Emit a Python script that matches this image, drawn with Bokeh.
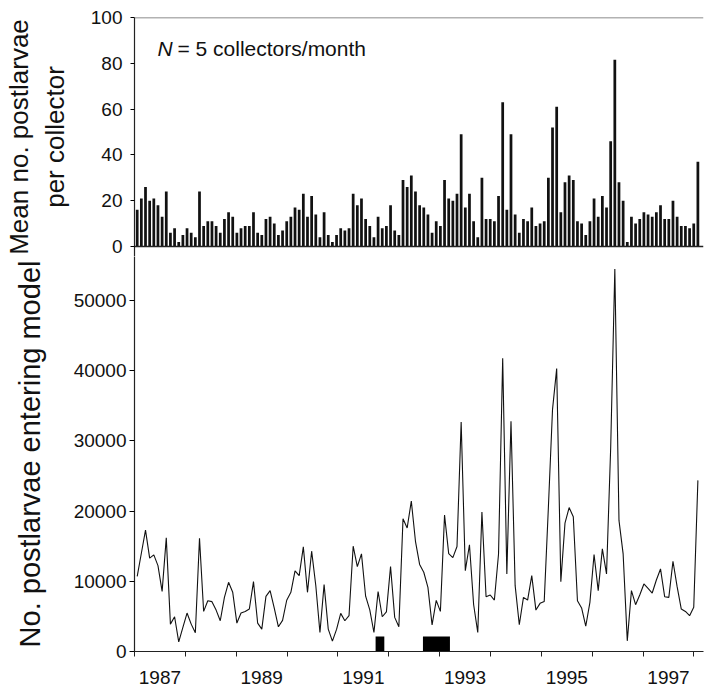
from bokeh.plotting import figure
from bokeh.layouts import column
from bokeh.models import FixedTicker, Span, Label, Range1d, ColumnDataSource
from bokeh.embed import file_html
from bokeh.resources import INLINE

# ---------------- data ----------------
mean_per_collector = [16, 21, 26, 20, 21, 18, 13, 24, 6, 8,
                      2, 5, 8, 6, 4, 24, 9, 11, 11, 9,
                      6, 12, 15, 13, 6, 8, 9, 9, 15, 6,
                      5, 12, 13, 10, 5, 7, 11, 13, 17, 16,
                      23, 13, 22, 14, 4, 15, 5, 2, 5, 8,
                      7, 8, 23, 18, 21, 12, 9, 4, 13, 8,
                      9, 18, 7, 5, 29, 26, 31, 24, 18, 17,
                      14, 6, 11, 9, 29, 21, 20, 23, 49, 17,
                      23, 11, 4, 30, 12, 12, 11, 22, 63, 16,
                      49, 14, 6, 12, 11, 17, 9, 10, 11, 30,
                      52, 61, 15, 28, 31, 29, 11, 10, 5, 11,
                      21, 13, 22, 17, 46, 81.5, 28, 20, 2, 13,
                      10, 12, 15, 14, 13, 15, 18, 12, 12, 20,
                      13, 9, 9, 8, 10, 37]

postlarvae_entering = [10700, 14000, 17300, 13300, 13760, 12240, 8570, 16190, 3900, 4950,
                       1380, 3430, 5480, 3900, 2670, 16140, 5710, 7240, 7100, 5900,
                       4380, 7710, 9860, 8430, 4050, 5480, 5710, 6050, 9950, 4050,
                       3190, 7860, 8670, 6190, 3520, 4430, 7300, 8430, 11500, 10800,
                       14900, 8430, 14290, 9400, 2710, 9520, 3190, 1480, 3150, 5430,
                       4380, 5100, 15000, 12100, 13900, 7880, 5930, 2710, 8550, 4950,
                       5640, 12100, 4860, 3520, 18900, 17600, 21430, 15700, 12400, 11290,
                       9140, 3780, 7290, 5710, 19430, 13950, 13380, 14950, 32700, 11520,
                       15210, 6700, 2710, 19860, 7810, 8050, 7330, 13900, 41760, 11050,
                       32800, 9380, 3810, 7710, 7330, 10810, 5900, 6860, 7140, 20500,
                       34500, 40300, 9950, 18290, 20500, 19200, 7240, 6200, 3600, 7000,
                       13810, 8670, 14620, 11050, 29000, 54480, 18670, 13900, 1520, 8670,
                       6670, 8050, 9620, 9000, 8330, 10190, 11760, 7810, 7710, 12860,
                       9240, 6050, 5710, 5100, 6290, 24380]

month_index = list(range(len(mean_per_collector)))

# periods marked by black boxes (in month-index units)
gap_start = [57.4, 68.8]
gap_end = [59.5, 75.3]

year_labels = ["1987", "1988", "1989", "1990", "1991", "1992",
               "1993", "1994", "1995", "1996", "1997"]
top_ticks = [0, 20, 40, 60, 80, 100]
bottom_ticks = [0, 10000, 20000, 30000, 40000, 50000]

# ---------------- layout constants ----------------
FONT = "Liberation Sans"
INK = "#111111"
X0, X1 = -0.65, 136.35
MONTHS_PER_YEAR_TICK = 12.245
year_bounds = [X0 + MONTHS_PER_YEAR_TICK * k for k in range(len(year_labels) + 1)]
year_mids = [X0 + MONTHS_PER_YEAR_TICK * (k + 0.5) for k in range(len(year_labels))]
label_over = {}
for k, (m, lab) in enumerate(zip(year_mids, year_labels)):
    label_over[m] = lab if k % 2 == 0 else ""

H_TOP = 256
H_BOT = 687 - H_TOP

# ---------------- top panel ----------------
p1 = figure(width=704, height=H_TOP, x_range=Range1d(X0, X1), y_range=Range1d(-4.37, 100),
            output_backend="svg", toolbar_location=None, x_axis_location=None,
            min_border_left=134, min_border_right=1, min_border_top=17, min_border_bottom=0)
p1.grid.visible = False
p1.outline_line_color = None

src1 = ColumnDataSource(dict(x=month_index, y=mean_per_collector))
p1.vbar(x="x", top="y", width=0.66, source=src1, fill_color=INK, line_color=None)

p1.add_layout(Span(location=0, dimension="width", line_color="#222222", line_width=1.3))
p1.add_layout(Span(location=100, dimension="width", line_color="#666666", line_width=1.3))

ya = p1.yaxis[0]
ya.ticker = FixedTicker(ticks=top_ticks)
ya.minor_tick_line_color = None
ya.major_tick_in = 0
ya.major_tick_out = 4
ya.major_label_standoff = 8
ya.major_label_text_font = FONT
ya.major_label_text_font_size = "19px"
ya.major_label_text_color = INK
ya.axis_line_color = "#222222"
ya.axis_line_width = 1.2
ya.axis_label = "Mean no. postlarvae\nper collector"
ya.axis_label_text_font = FONT
ya.axis_label_text_font_size = "26px"
ya.axis_label_text_font_style = "normal"
ya.axis_label_text_color = INK
ya.axis_label_standoff = 18

p1.add_layout(Label(x=4.9, y=86.5, text="N", text_font=FONT, text_font_size="21px",
                    text_font_style="italic", text_color=INK, text_baseline="alphabetic"))
p1.add_layout(Label(x=9.7, y=86.5, text="= 5 collectors/month", text_font=FONT,
                    text_font_size="21px", text_color=INK, text_baseline="alphabetic"))

# ---------------- bottom panel ----------------
p2 = figure(width=704, height=H_BOT, x_range=Range1d(X0, X1), y_range=Range1d(0, 56270),
            output_backend="svg", toolbar_location=None,
            min_border_left=134, min_border_right=1, min_border_top=0, min_border_bottom=36)
p2.grid.visible = False
p2.outline_line_color = None

src2 = ColumnDataSource(dict(x=month_index, y=postlarvae_entering))
p2.line(x="x", y="y", source=src2, line_color=INK, line_width=1.1)
p2.quad(left=gap_start, right=gap_end, bottom=[0, 0], top=[2150, 2150],
        fill_color="black", line_color=None)

xa = p2.xaxis[0]
xa.ticker = FixedTicker(ticks=year_mids, minor_ticks=year_bounds)
xa.major_label_overrides = label_over
xa.major_tick_line_color = None
xa.major_tick_in = 0
xa.major_tick_out = 0
xa.minor_tick_in = 0
xa.minor_tick_out = 5
xa.minor_tick_line_color = "#222222"
xa.major_label_standoff = 14
xa.major_label_text_font = FONT
xa.major_label_text_font_size = "19px"
xa.major_label_text_color = INK
xa.axis_line_color = "#222222"
xa.axis_line_width = 1.2

yb = p2.yaxis[0]
yb.ticker = FixedTicker(ticks=bottom_ticks)
yb.minor_tick_line_color = None
yb.major_tick_in = 0
yb.major_tick_out = 5
yb.major_label_standoff = 3
yb.major_label_text_font = FONT
yb.major_label_text_font_size = "19px"
yb.major_label_text_color = INK
yb.axis_line_color = "#222222"
yb.axis_line_width = 1.2
yb.axis_label = "No. postlarvae entering model"
yb.axis_label_text_font = FONT
yb.axis_label_text_font_size = "29px"
yb.axis_label_text_font_style = "normal"
yb.axis_label_text_color = INK
yb.axis_label_standoff = 25

layout = column(p1, p2, spacing=0)
html = file_html(layout, INLINE)
with open("out.html", "w") as f:
    f.write(html)
